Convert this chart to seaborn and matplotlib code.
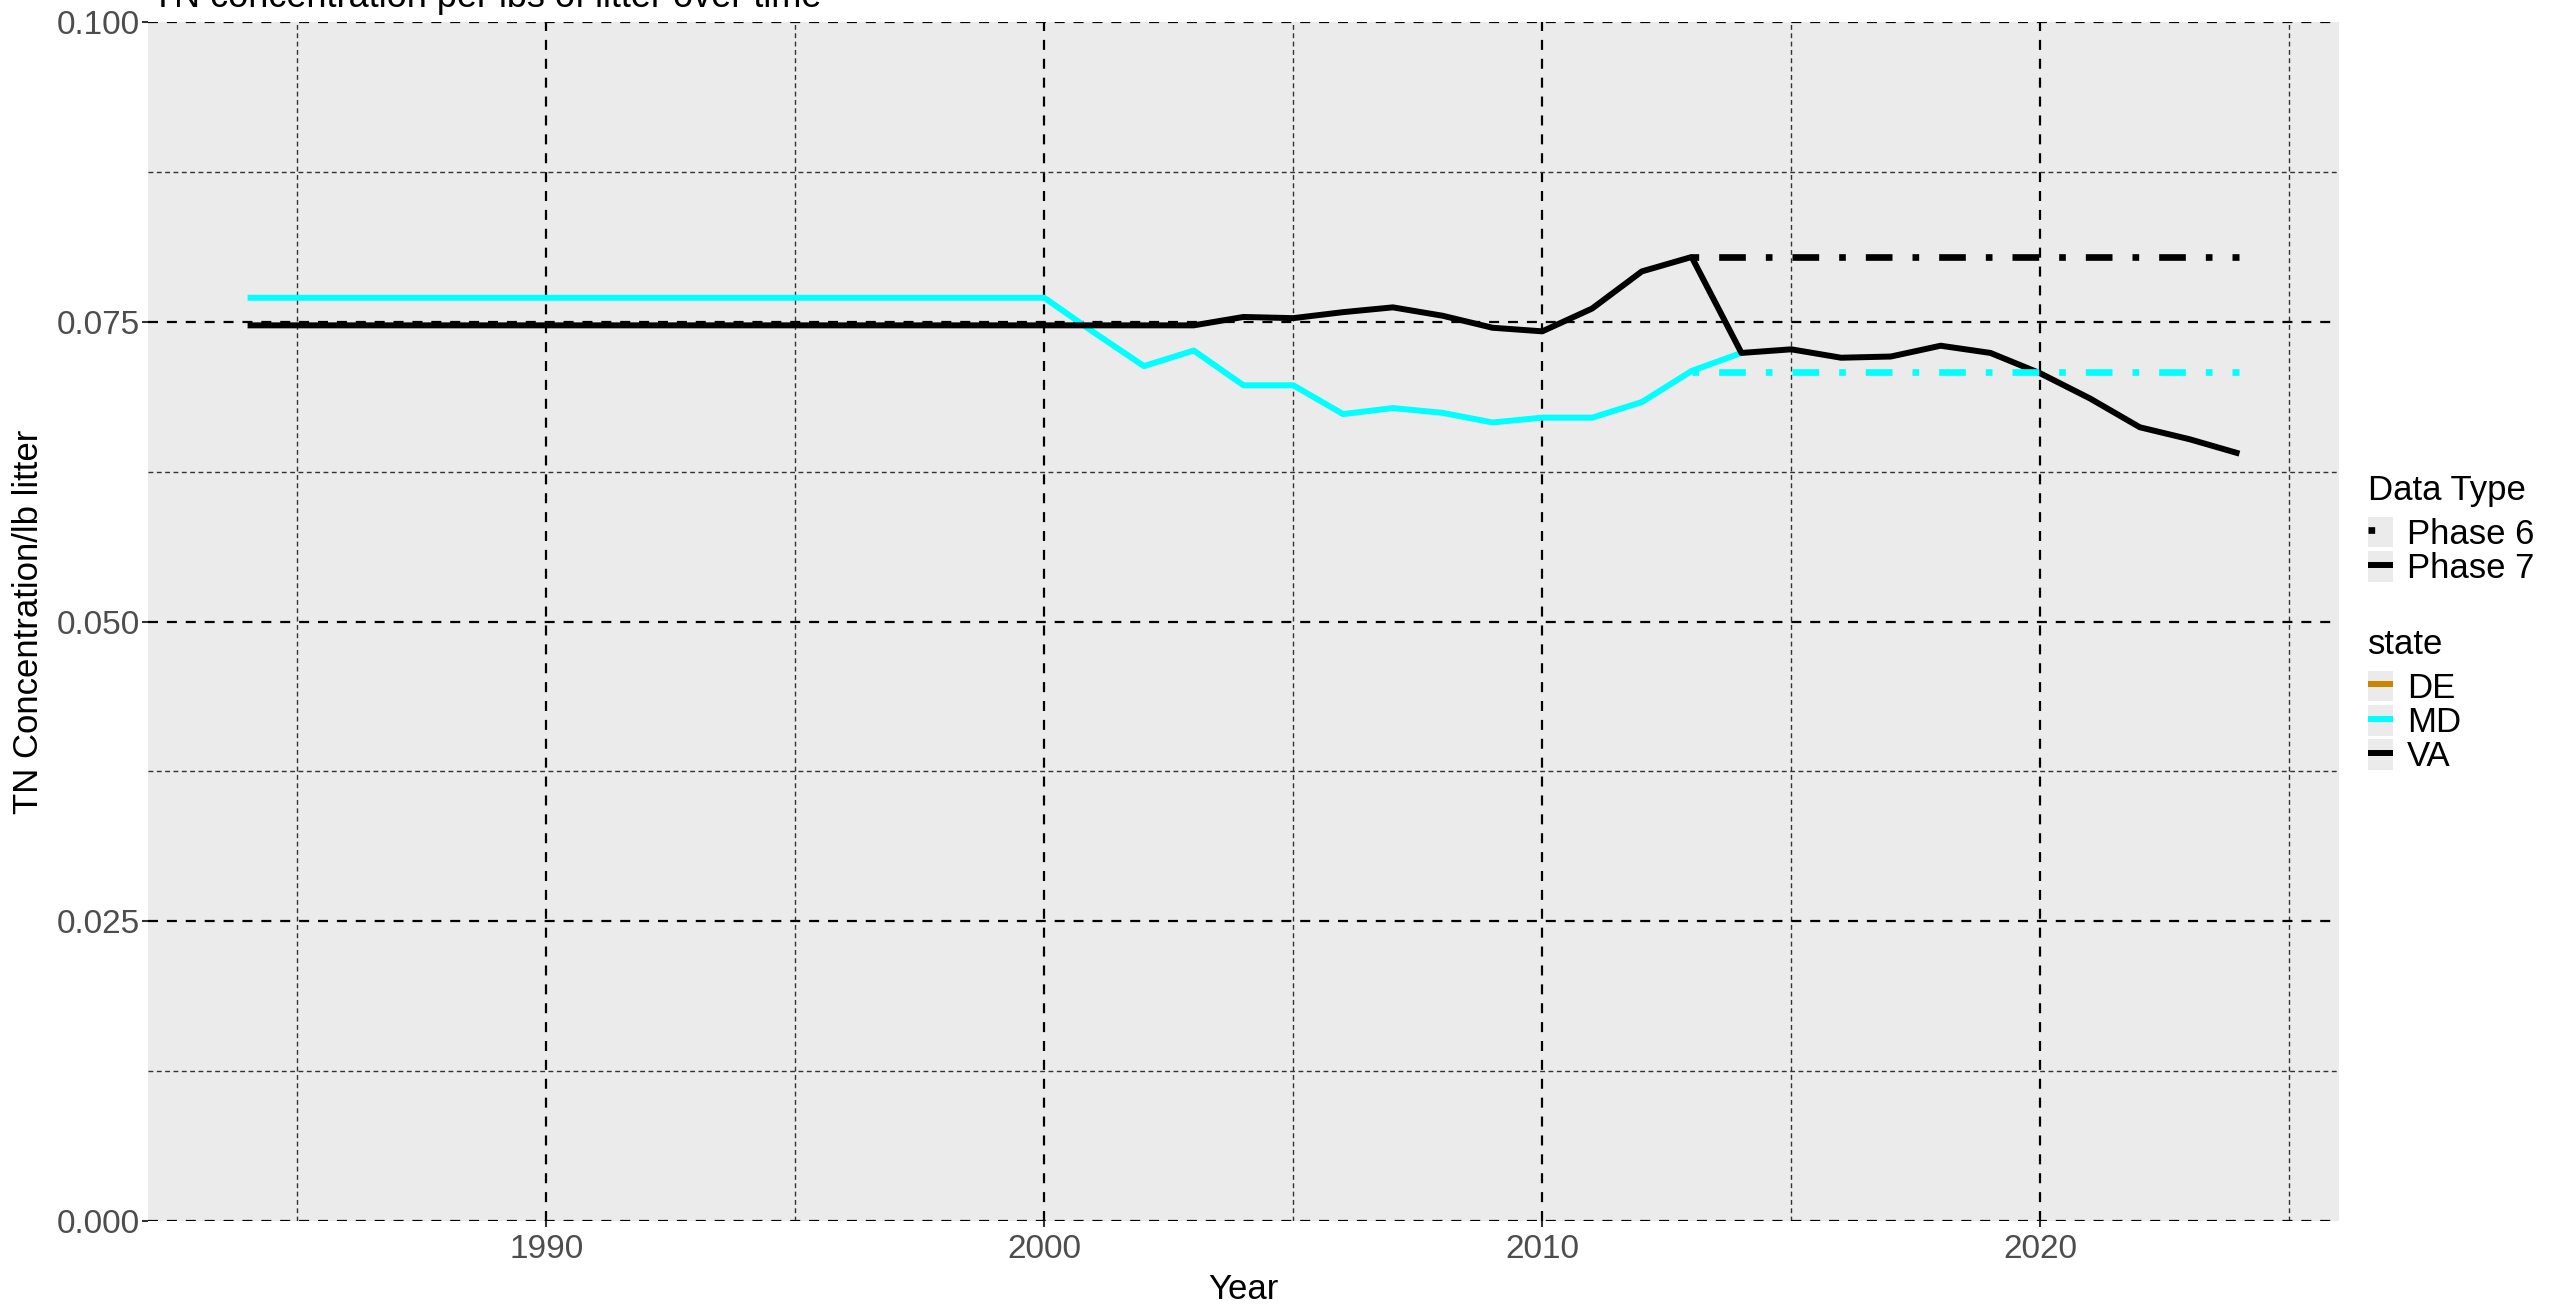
import numpy as np
import pandas as pd
import matplotlib
matplotlib.use("Agg")
import matplotlib.pyplot as plt
import seaborn as sns
from matplotlib.lines import Line2D
from matplotlib.patches import Rectangle
from matplotlib.legend_handler import HandlerLine2D

# values
md_p7_years = list(range(1984, 2015))
md_p7 = [0.0770, 0.0770, 0.0770, 0.0770, 0.0770, 0.0770, 0.0770, 0.0770, 0.0770,
         0.0770, 0.0770, 0.0770, 0.0770, 0.0770, 0.0770, 0.0770, 0.0770,
         0.0741, 0.0713, 0.0726, 0.0697, 0.0697, 0.0673, 0.0678, 0.0674, 0.0666,
         0.0670, 0.0670, 0.0683, 0.0709, 0.0724]

va_p7_years = list(range(1984, 2025))
va_p7 = [0.0747, 0.0747, 0.0747, 0.0747, 0.0747, 0.0747, 0.0747, 0.0747, 0.0747,
         0.0747, 0.0747, 0.0747, 0.0747, 0.0747, 0.0747, 0.0747, 0.0747, 0.0747,
         0.0747, 0.0747,
         0.0754, 0.0753, 0.0758, 0.0762, 0.0755, 0.0745, 0.0742, 0.0761, 0.0792,
         0.0804, 0.0724, 0.0727, 0.0720, 0.0721, 0.0730, 0.0724, 0.0707, 0.0686,
         0.0662, 0.0652, 0.0640]

p6_years = list(range(2013, 2025))
md_p6 = [0.0708, 0.0708, 0.0708, 0.0708, 0.0708, 0.0708,
         0.0708, 0.0708, 0.0708, 0.0708, 0.0708, 0.0708]
va_p6 = [0.0804, 0.0804, 0.0804, 0.0804, 0.0804, 0.0804,
         0.0804, 0.0804, 0.0804, 0.0804, 0.0804, 0.0804]

states = ["DE", "MD", "VA"]
state_colors = {"DE": "#CD8500", "MD": "#00FFFF", "VA": "#000000"}
data_types = ["Phase 6", "Phase 7"]

df_p7 = pd.concat([
    pd.DataFrame({"Year": md_p7_years, "value": md_p7, "state": "MD"}),
    pd.DataFrame({"Year": va_p7_years, "value": va_p7, "state": "VA"}),
])
df_p6 = pd.concat([
    pd.DataFrame({"Year": p6_years, "value": md_p6, "state": "MD"}),
    pd.DataFrame({"Year": p6_years, "value": va_p6, "state": "VA"}),
])

plt.rcParams["font.family"] = ["Liberation Sans", "DejaVu Sans"]
fs_tick = 24
fs_lab = 25

fig = plt.figure(figsize=(25.54, 13.04), dpi=100)
ax = fig.add_axes([148 / 2554, 83 / 1304, 2191 / 2554, 1199 / 1304])
ax.set_facecolor("#EBEBEB")

dotdash = (0, (1, 3, 4, 3))

sns.lineplot(data=df_p7, x="Year", y="value", hue="state", palette=state_colors,
             estimator=None, linewidth=4.3, legend=False, ax=ax,
             solid_capstyle="butt")
sns.lineplot(data=df_p6, x="Year", y="value", hue="state", palette=state_colors,
             estimator=None, linewidth=4.8, legend=False, ax=ax,
             linestyle=dotdash, dash_capstyle="butt")

ax.set_xlim(1982, 2026)
ax.set_ylim(0, 0.1)
ax.set_xticks([1990, 2000, 2010, 2020])
ax.set_xticks([1985, 1995, 2005, 2015, 2025], minor=True)
ax.set_yticks([0.0, 0.025, 0.05, 0.075, 0.1])
ax.set_yticks([0.0125, 0.0375, 0.0625, 0.0875], minor=True)
ax.set_yticklabels(["0.000", "0.025", "0.050", "0.075", "0.100"])

ax.set_axisbelow(True)
ax.grid(which="major", color="black", linestyle=(0, (4.5, 4)), linewidth=1.6)
ax.grid(which="minor", color="#333333", linestyle=(0, (3.5, 2.5)), linewidth=1.0)
for s in ax.spines.values():
    s.set_visible(False)
ax.tick_params(which="major", length=4, width=1.5, color="#333333",
               labelsize=fs_tick, labelcolor="#4D4D4D")
ax.tick_params(axis="y", which="major", pad=2)
ax.tick_params(axis="x", which="major", pad=5)
ax.tick_params(which="minor", length=0)

ax.set_xlabel("Year", fontsize=fs_lab, color="black", labelpad=6)
ax.set_ylabel("TN Concentration/lb litter", fontsize=fs_lab, color="black", labelpad=8)

fig.text(152 / 2554, 1 - 7 / 1304, "TN concentration per lbs of litter over time",
         fontsize=fs_lab + 1, color="black", va="baseline", ha="left")


class KeyBox(HandlerLine2D):
    def create_artists(self, legend, orig_handle, xdescent, ydescent,
                       width, height, fontsize, trans):
        box = Rectangle((-xdescent, -ydescent), width, height,
                        facecolor="#EBEBEB", edgecolor="none", transform=trans)
        arts = super().create_artists(legend, orig_handle, xdescent, ydescent,
                                      width, height, fontsize, trans)
        return [box] + list(arts)


type_handles = [
    Line2D([], [], color="black", linewidth=4.8, linestyle=dotdash, dash_capstyle="butt"),
    Line2D([], [], color="black", linewidth=4.3, solid_capstyle="butt"),
]
state_handles = [Line2D([], [], color=state_colors[s], linewidth=4.3,
                        solid_capstyle="butt") for s in states]

leg_kw = dict(loc="upper left", frameon=False, borderpad=0, borderaxespad=0,
              fontsize=fs_lab, title_fontsize=fs_lab,
              handlelength=25 / (fs_lab * 1.389), handleheight=0.98,
              handletextpad=14 / (fs_lab * 1.389), labelspacing=0.0,
              handler_map={Line2D: KeyBox()})
leg1 = fig.legend(type_handles, data_types, title="Data Type",
                  bbox_to_anchor=(2368 / 2554, 1 - 474 / 1304), **leg_kw)
leg1._legend_box.align = "left"
leg1._legend_box.sep = 7
leg2 = fig.legend(state_handles, states, title="state",
                  bbox_to_anchor=(2368 / 2554, 1 - 628 / 1304), **leg_kw)
leg2._legend_box.align = "left"
leg2._legend_box.sep = 7

fig.savefig("out.png", dpi=100)
